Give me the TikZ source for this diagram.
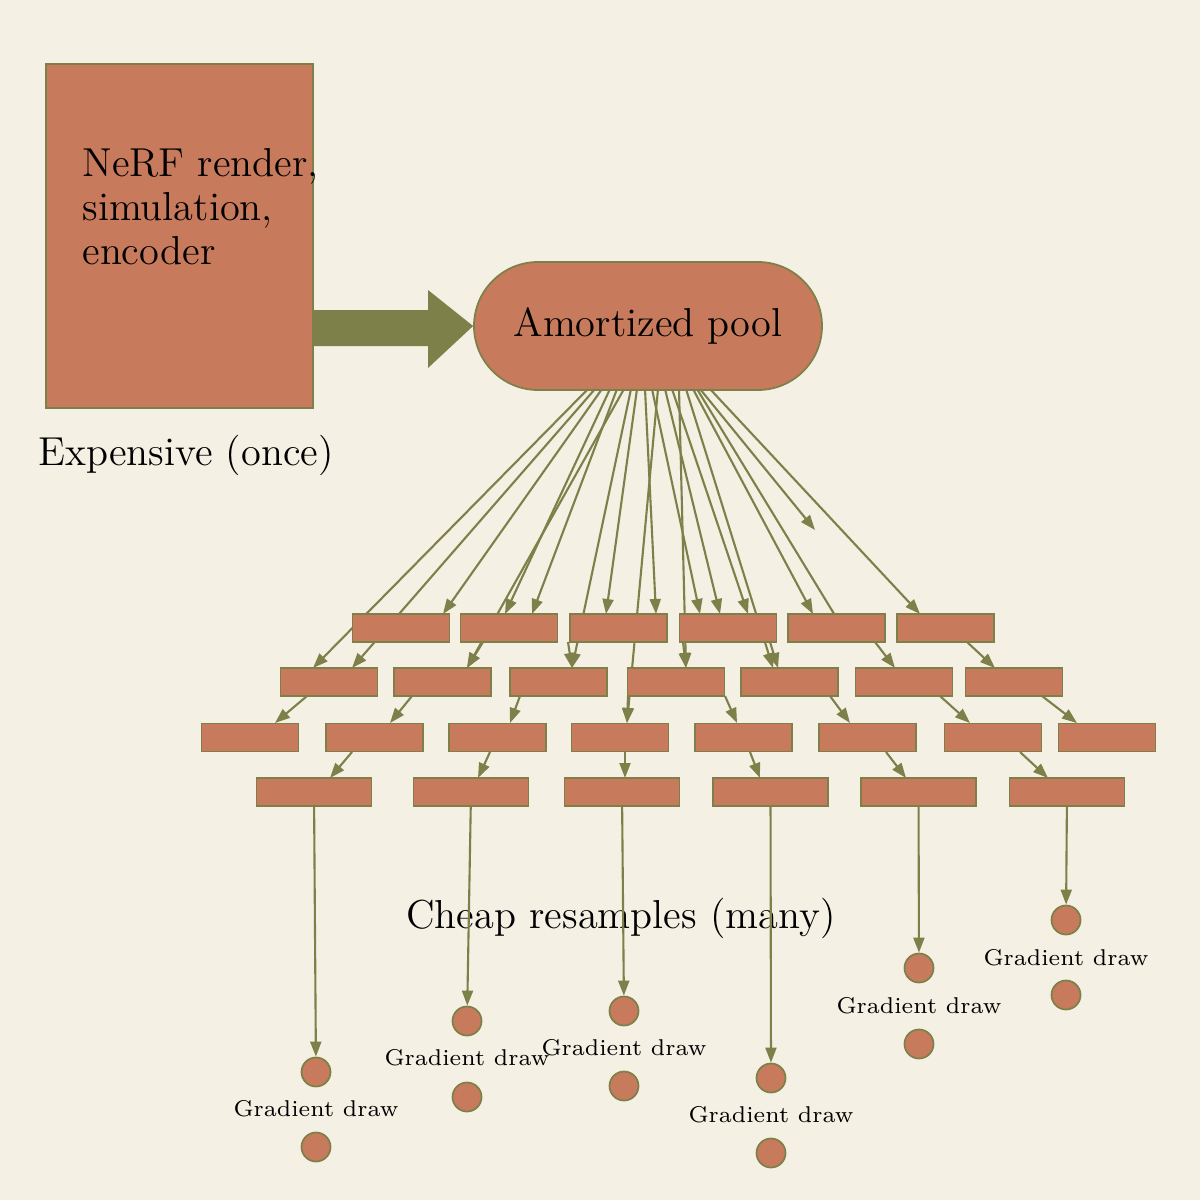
\documentclass[tikz,border=0pt]{standalone}
\usetikzlibrary{arrows.meta,shapes.misc}
\definecolor{paper}{HTML}{F4F0E4}
\definecolor{brick}{HTML}{C87A5C}
\definecolor{olive}{HTML}{7E8049}
\tikzset{
  brickbox/.style={draw=olive, fill=brick, line width=0.5pt, inner sep=0pt},
  cell/.style={brickbox, minimum width=0.97cm, minimum height=0.28cm},
  widecell/.style={brickbox, minimum width=1.15cm, minimum height=0.28cm},
  dot/.style={brickbox, circle, minimum size=0.29cm},
  flow/.style={olive, line width=0.6pt, -{Triangle[length=1.5mm,width=1.1mm]}},
  big/.style={font=\fontsize{11.5}{12.5}\selectfont},
  small/.style={font=\fontsize{6.5}{7.5}\selectfont}
}
\begin{document}
\begin{tikzpicture}[x=0.1mm,y=-0.1mm]
  \fill[paper] (0,0) rectangle (1200,1200);

  % expensive stage
  \node[brickbox, minimum width=2.67cm, minimum height=3.44cm] (costly) at (179.5,236) {};
  \node[big, align=left, anchor=north west] (costtxt) at (70,136) {NeRF render,\\simulation,\\encoder};
  \node[big] (once) at (186,455) {Expensive (once)};
  \node[brickbox, rounded rectangle, minimum width=3.48cm, minimum height=1.28cm, big] (pool) at (648,326) {Amortized pool};
  \fill[olive] (costly.east |- 0,310) -- (428,310) -- (428,290) -- (pool.west) -- (428,368) -- (428,346) -- (costly.east |- 0,346) -- cycle;

  % fan from the pool (drawn first, boxes cover it)
  \foreach \i/\sx/\ex/\ey in {1/588/313/668, 2/595/352/668, 3/602/443/614, 4/610/505/614,
      5/617/532/614, 6/624/467/668, 7/631/572/668, 8/637/606/614, 9/645/656/614,
      10/652/700/614, 11/658/627/723, 12/665/720/614, 13/672/748/614, 14/679/686/668,
      15/686/773/668, 16/693/813/614, 17/700/815/530, 18/710/920/614} {
    \coordinate (s\i) at (\sx,389);
    \coordinate (f\i) at (\ex,\ey);
    \draw[flow] (s\i) -- (f\i);
  }
  \coordinate (s19) at (697,389);
  \coordinate (f19) at (850,640);
  \draw[olive, line width=0.6pt] (s19) -- (f19);

  % rows of cheap samples
  \foreach \n/\x in {a/401, b/509, c/618.5, d/728, e/836.5, f/945.5}
    \node[cell] (r1\n) at (\x,628) {};
  \foreach \n/\x in {a/329, b/442.5, c/558.5, d/676, e/789.5, f/904, g/1014}
    \node[cell] (r2\n) at (\x,682) {};
  \foreach \n/\x in {a/250, b/374.5, c/497.5, d/620, e/743.5, f/867.5, g/993, h/1107}
    \node[cell] (r3\n) at (\x,737.5) {};
  \foreach \n/\x in {a/314, b/471, c/622, d/770.5, e/918.5, f/1067}
    \node[widecell] (r4\n) at (\x,792) {};

  % row to row
  \foreach \i/\sx/\sy/\ex/\ey in {1/483/642/467/668, 2/568/642/572/668, 3/683/642/686/668,
      4/770/642/778/668, 5/875/642/895/668, 6/967/642/995/668,
      7/307/696/275/723, 8/412/696/390/723, 9/520/696/510/723, 10/628/696/627/723,
      11/725/696/737/723, 12/830/696/850/723, 13/940/696/970/723, 14/1042/696/1077/723,
      15/352/752/330/778, 16/490/752/478/778, 17/625/752/625/778, 18/750/752/760/778,
      19/886/752/906/778, 20/1020/752/1048/778} {
    \coordinate (a\i) at (\sx,\sy);
    \coordinate (b\i) at (\ex,\ey);
    \draw[flow] (a\i) -- (b\i);
  }

  \node[big] (cheap) at (621,918) {Cheap resamples (many)};

  % gradient draws
  \foreach \n/\x/\y/\t/\z in {a/316/1072/1109/1147, b/467/1021/1058/1097, c/624/1011/1048/1086,
      d/771/1078/1115/1153, e/919/968/1006/1044, f/1066/920/958/995} {
    \node[dot] (g\n) at (\x,\y) {};
    \node[small] (l\n) at (\x,\t) {Gradient draw};
    \node[dot] (h\n) at (\x,\z) {};
    \draw[flow] (r4\n) -- (g\n);
  }
\end{tikzpicture}
\end{document}
